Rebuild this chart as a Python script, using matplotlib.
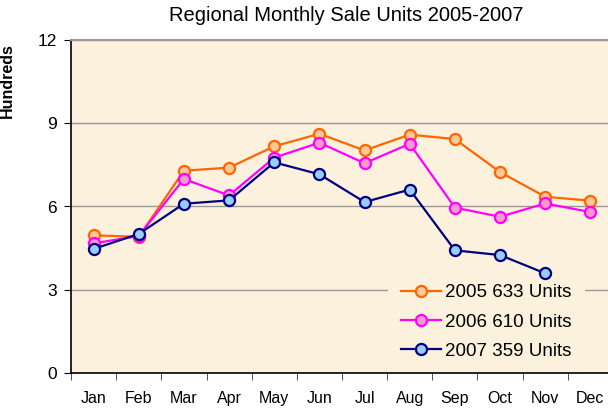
import matplotlib
matplotlib.use("Agg")
import matplotlib.pyplot as plt

plt.rcParams["font.family"] = ["Liberation Sans", "DejaVu Sans"]

months = ["Jan", "Feb", "Mar", "Apr", "May", "Jun",
          "Jul", "Aug", "Sep", "Oct", "Nov", "Dec"]
sales_2005 = [4.96, 4.91, 7.29, 7.40, 8.17, 8.62, 8.02, 8.59, 8.43, 7.24, 6.35, 6.21]
sales_2006 = [4.67, 4.94, 6.99, 6.40, 7.76, 8.30, 7.56, 8.26, 5.96, 5.63, 6.11, 5.80]
sales_2007 = [4.47, 5.01, 6.10, 6.22, 7.59, 7.16, 6.16, 6.61, 4.42, 4.25, 3.59]
labels = ["2005 633 Units", "2006 610 Units", "2007 359 Units"]
yticks = [0, 3, 6, 9, 12]

fig = plt.figure(figsize=(6.08, 4.11), dpi=100)
ax = fig.add_axes([71 / 608, 38 / 411, 542 / 608, 333 / 411])
ax.set_facecolor("#FCF1DC")

styles = [
    (sales_2005, "#FF6600", "#FFC896"),
    (sales_2006, "#FF00FF", "#FF99CC"),
    (sales_2007, "#000080", "#99CCFF"),
]
for (vals, edge, face), lab in zip(styles, labels):
    ax.plot(range(len(vals)), vals, color=edge, lw=1.6, marker="o",
            markersize=8, markerfacecolor=face, markeredgecolor=edge,
            markeredgewidth=1.6, label=lab, zorder=3)

ax.set_xlim(-0.5, 11.5)
ax.set_ylim(0, 12)
ax.set_yticks(yticks)
ax.set_yticklabels([str(t) for t in yticks], fontsize=12.5)
ax.yaxis.grid(True, color="#999999", lw=1)
ax.set_axisbelow(True)

ax.set_xticks(range(12))
ax.set_xticklabels(months, fontsize=11.5)
ax.set_xticks([i - 0.5 for i in range(13)], minor=True)
ax.tick_params(axis="x", which="major", length=0, pad=13)
ax.tick_params(axis="x", which="minor", length=5, direction="out", color="#333333")
ax.tick_params(axis="y", length=5, direction="out", pad=5)

ax.spines["top"].set_color("#999999")
ax.spines["top"].set_linewidth(1.5)
ax.spines["right"].set_visible(False)
ax.spines["left"].set_linewidth(1.2)
ax.spines["bottom"].set_linewidth(1.2)

ax.set_ylabel("Hundreds", fontsize=11.5, fontweight="bold")
ax.yaxis.set_label_coords(-0.103, 0.879)
fig.text(0.569, 0.962, "Regional Monthly Sale Units 2005-2007", ha="center",
         va="center", fontsize=14.5)

leg = ax.legend(loc="lower right", bbox_to_anchor=(0.948, 0.0), fontsize=13.5,
                frameon=True, facecolor="#FCF1DC", edgecolor="none",
                framealpha=1, handlelength=2.1, labelspacing=0.65,
                handletextpad=0.25, borderpad=0.7, borderaxespad=0)
leg.set_zorder(2.4)

fig.savefig("out.png", dpi=100)
